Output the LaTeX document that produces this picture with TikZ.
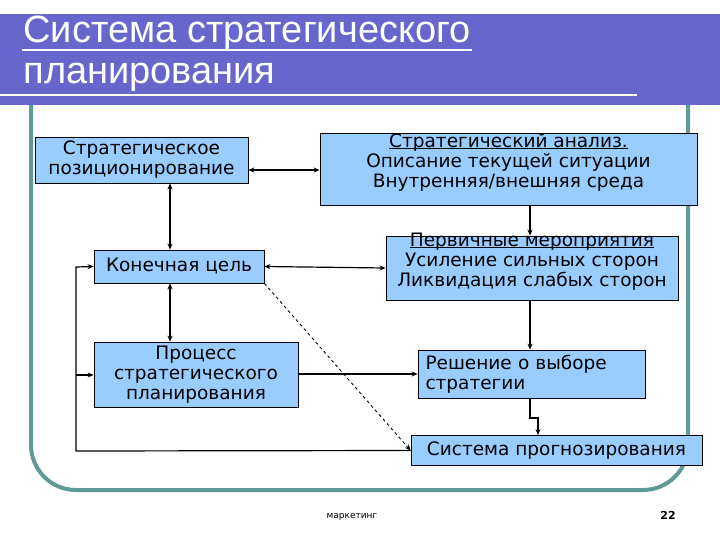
\documentclass[tikz,border=0pt]{standalone}
\usepackage{fontspec}
\setmainfont{DejaVu Sans}
\newfontfamily\titlefont{Liberation Sans}
\usetikzlibrary{arrows.meta}
\definecolor{boxblue}{HTML}{99CCFF}
\definecolor{band}{HTML}{6666CC}
\definecolor{frame}{HTML}{5F9A97}
\newcommand{\ul}[1]{\underline{\smash{#1}}}
\tikzset{
  bx/.style={draw=black, fill=boxblue, line width=0.8pt, inner sep=0pt, font=\fontsize{18.5}{20}\selectfont, align=center},
  cn/.style={line width=1.2pt, -{Stealth[length=6pt,width=5pt]}},
  bcn/.style={line width=1.2pt, {Stealth[length=6pt,width=5pt]}-{Stealth[length=6pt,width=5pt]}},
}
\begin{document}
\begin{tikzpicture}[x=1pt,y=-1pt]
\useasboundingbox (0,0) rectangle (720,540);
\fill[white] (0,0) rectangle (720,540);
% frame
\draw[frame, line width=4pt, rounded corners=45pt] (31,100) -- (31,490) -- (688,490) -- (688,100);
% title band
\fill[band] (0,14) rectangle (720,105);
\node[anchor=west, text=white, font=\titlefont\fontsize{38}{40}\selectfont] (t1) at (20,33) {Система стратегического};
\node[anchor=west, text=white, font=\titlefont\fontsize{38}{40}\selectfont] (t2) at (20,77) {планирования};
\draw[white, line width=1.5pt] (22,50) -- (472,50);
\draw[white, line width=1.5pt] (0,95) -- (637,95);
% boxes
\node[bx, minimum width=213pt, minimum height=46pt] (pos) at (141.5,160) {Стратегическое\\позиционирование};
\node[bx, minimum width=377pt, minimum height=72pt] (an) at (508.5,169) {\ul{Стратегический анализ.}\\Описание текущей ситуации\\Внутренняя/внешняя среда};
\node[bx, minimum width=170pt, minimum height=33pt] (goal) at (179,266.5) {Конечная цель};
\node[bx, minimum width=292pt, minimum height=64pt] (prim) at (532,268) {\ul{Первичные мероприятия}\\Усиление сильных сторон\\Ликвидация слабых сторон};
\node[bx, minimum width=204pt, minimum height=65pt] (proc) at (196,374.5) {Процесс\\стратегического\\планирования};
\node[bx, minimum width=227pt, minimum height=48pt, align=left, text width=212pt] (dec) at (531.5,374) {Решение о выборе\\стратегии};
\node[bx, minimum width=291pt, minimum height=30pt] (fc) at (556.5,450.5) {Система прогнозирования};
% connectors
\draw[bcn] (pos.east |- 0,170) -- (an.west |- 0,170);
\draw[bcn] (pos.south -| 170,0) -- (goal.north -| 170,0);
\draw[bcn] (goal.south -| 170,0) -- (proc.north -| 170,0);
\draw[bcn] (goal.east) -- (prim.west);
\draw[cn] (an.south -| 530,0) -- (prim.north -| 530,0);
\draw[cn] (prim.south -| 530,0) -- (dec.north -| 530,0);
\draw[cn] (proc.east |- 0,374) -- (dec.west |- 0,374);
\draw[cn] (dec.south -| 530,0) -- (530,418) -- (538,418) -- (fc.north -| 538,0);
\coordinate (c1) at (76,451);
\coordinate (c2) at (76,267);
\coordinate (c3) at (76,375);
\draw[cn] (fc.west) -- (c1) -- (c2) -- (goal.west);
\draw[cn] (c3) -- (proc.west |- c3);
\draw[line width=0.9pt, dashed, -{Stealth[length=6pt,width=5pt]}] (goal.south east) -- (fc.west);
% footer
\node[font=\fontsize{9}{10}\selectfont] (ft) at (352,517) {маркетинг};
\node[font=\bfseries\fontsize{11}{12}\selectfont] (pg) at (668,515) {22};
\end{tikzpicture}
\end{document}
